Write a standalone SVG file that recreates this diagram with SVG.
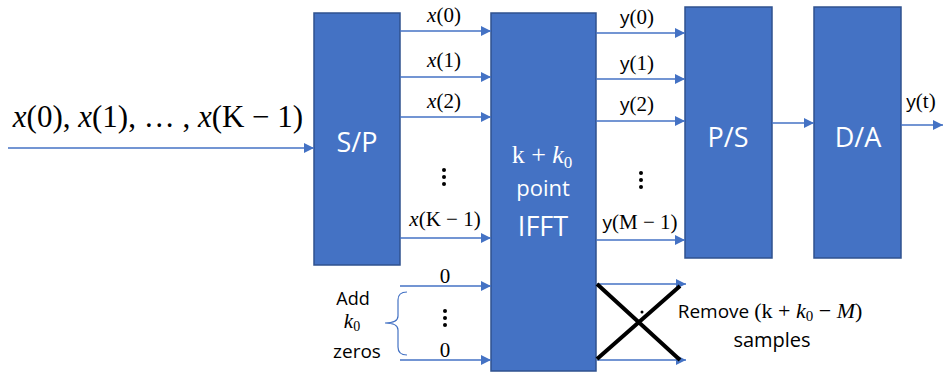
<svg xmlns="http://www.w3.org/2000/svg" width="943" height="376" viewBox="0 0 943 376">
<defs>
<marker id="ah" viewBox="0 0 10 10" refX="10" refY="5" markerWidth="10" markerHeight="10" markerUnits="userSpaceOnUse" orient="auto"><path d="M0,0 L10,5 L0,10 z" fill="#4472C4"/></marker>
<style>
.box{fill:#4472C4;stroke:#2F528F;stroke-width:1.5}
.bt{fill:#fff;font-family:"Open Sans","Liberation Sans",sans-serif;text-anchor:middle}
.ar{stroke:#4472C4;stroke-width:1.6;fill:none;marker-end:url(#ah)}
.m{font-family:"Liberation Serif",serif;font-size:21px;fill:#000;text-anchor:middle}
.y{font-family:"Open Sans","Liberation Sans",sans-serif;font-size:19px}
.s{font-family:"Open Sans","Liberation Sans",sans-serif;fill:#000;text-anchor:middle}
.i{font-style:italic}
.dot{fill:#000}
</style>
</defs>
<rect width="943" height="376" fill="#fff"/>
<g id="sp"><rect class="box" x="314" y="13" width="86" height="252"/><text class="bt" x="357" y="152" font-size="27">S/P</text></g>
<g id="ifft"><rect class="box" x="491" y="13" width="105" height="358"/>
<text x="542" y="163" font-size="26" fill="#fff" text-anchor="middle" font-family="Liberation Serif,serif">k + <tspan font-style="italic">k</tspan><tspan font-size="17" dy="5">0</tspan></text>
<text class="bt" x="543" y="196" font-size="22">point</text>
<text class="bt" x="543" y="236" font-size="27">IFFT</text></g>
<g id="ps"><rect class="box" x="685" y="7" width="87" height="251"/><text class="bt" x="728" y="147" font-size="27">P/S</text></g>
<g id="da"><rect class="box" x="814" y="7" width="87" height="251"/><text class="bt" x="858" y="147" font-size="27">D/A</text></g>
<g id="connectors">
<path class="ar" d="M8,148 H314"/>
<path class="ar" d="M400,31 H491"/>
<path class="ar" d="M400,77 H491"/>
<path class="ar" d="M400,117 H491"/>
<path class="ar" d="M400,238 H491"/>
<path class="ar" d="M400,286 H491"/>
<path class="ar" d="M400,360 H491"/>
<path class="ar" d="M596,33 H685"/>
<path class="ar" d="M596,79 H685"/>
<path class="ar" d="M596,121 H685"/>
<path class="ar" d="M596,240 H685"/>
<path class="ar" d="M597,284 H686"/>
<path class="ar" d="M597,360 H686"/>
<path class="ar" d="M772,123 H814"/>
<path class="ar" d="M901,125 H943"/>
</g>
<g id="labels">
<text x="158" y="127" font-family="Liberation Serif,serif" font-size="31" text-anchor="middle"><tspan font-style="italic">x</tspan>(0), <tspan font-style="italic">x</tspan>(1), … , <tspan font-style="italic">x</tspan>(K − 1)</text>
<text class="m" x="444" y="22"><tspan class="i">x</tspan>(0)</text>
<text class="m" x="444" y="67"><tspan class="i">x</tspan>(1)</text>
<text class="m" x="444" y="108"><tspan class="i">x</tspan>(2)</text>
<text class="m" x="445" y="226"><tspan class="i">x</tspan>(K − 1)</text>
<circle class="dot" cx="444" cy="170" r="2"/><circle class="dot" cx="444" cy="177" r="2"/><circle class="dot" cx="444" cy="184" r="2"/>
<text class="m" x="637" y="24"><tspan class="y">y</tspan>(0)</text>
<text class="m" x="637" y="70"><tspan class="y">y</tspan>(1)</text>
<text class="m" x="637" y="111"><tspan class="y">y</tspan>(2)</text>
<text class="m" x="640" y="229"><tspan class="y">y</tspan>(M − 1)</text>
<circle class="dot" cx="641" cy="173" r="2"/><circle class="dot" cx="641" cy="180" r="2"/><circle class="dot" cx="641" cy="187" r="2"/>
<text class="m" x="921" y="108"><tspan class="y">y</tspan>(t)</text>
<text class="m" x="445" y="283">0</text>
<text class="m" x="445" y="357">0</text>
<circle class="dot" cx="445" cy="311" r="2"/><circle class="dot" cx="445" cy="318" r="2"/><circle class="dot" cx="445" cy="325" r="2"/>
<text class="s" x="353" y="305" font-size="18">Add</text>
<text x="352" y="328" font-family="Liberation Serif,serif" font-size="21" text-anchor="middle"><tspan font-style="italic">k</tspan><tspan font-size="14" dy="3">0</tspan></text>
<text class="s" x="357" y="358" font-size="19">zeros</text>
<path d="M407,292 Q398,292 398,300 V316 Q398,323 385,323 Q398,323 398,330 V347 Q398,355 407,355" fill="none" stroke="#4472C4" stroke-width="1.2"/>
<path d="M597,284 L680,360 M597,359 L680,286" stroke="#000" stroke-width="4" fill="none"/>
<circle class="dot" cx="642" cy="312" r="1.5"/>
<text x="770" y="318" font-size="19" text-anchor="middle"><tspan font-family="Open Sans,Liberation Sans,sans-serif">Remove </tspan><tspan font-family="Liberation Serif,serif" font-size="22">(k + <tspan font-style="italic">k</tspan><tspan font-size="15" dy="3">0</tspan><tspan dy="-3"> − </tspan><tspan font-style="italic">M</tspan>)</tspan></text>
<text class="s" x="772" y="347" font-size="20">samples</text>
</g>
</svg>
